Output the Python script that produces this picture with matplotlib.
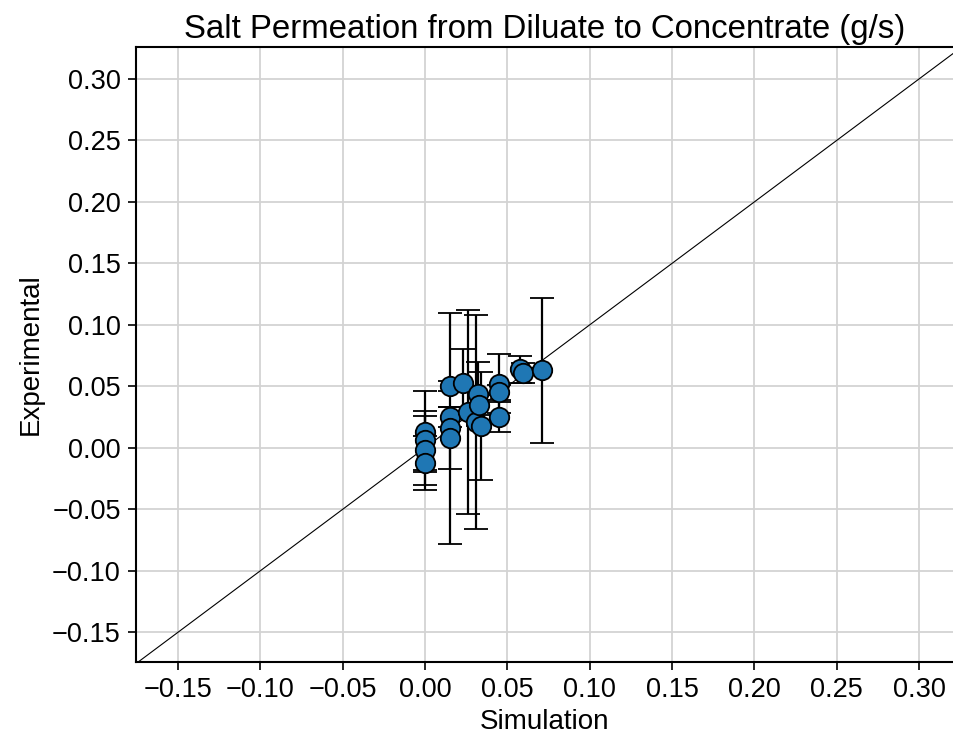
import matplotlib
matplotlib.use('Agg')
import matplotlib.pyplot as plt

plt.rcParams['font.family'] = ['Liberation Sans', 'DejaVu Sans']

# Data
sim = [0.000, 0.000, 0.000, 0.000,
       0.0152, 0.0152, 0.0152, 0.0152,
       0.0229, 0.0263, 0.032, 0.031, 0.033, 0.034,
       0.0452, 0.0452, 0.0452, 0.0577, 0.0594, 0.0709]
expt = [0.013, 0.006, -0.002, -0.012,
        0.050, 0.025, 0.016, 0.008,
        0.053, 0.029, 0.044, 0.021, 0.035, 0.018,
        0.052, 0.045, 0.025, 0.064, 0.061, 0.063]
err = [0.033, 0.024, 0.028, 0.022,
       0.004, 0.008, 0.094, 0.025,
       0.027, 0.083, 0.026, 0.087, 0.008, 0.044,
       0.024, 0.006, 0.012, 0.011, 0.008, 0.059]

lims = [-0.175, 0.325]

fig = plt.figure(figsize=(9.54, 7.38), dpi=100)
ax = fig.add_axes([0.1426, 0.103, 0.857, 0.833])

ax.grid(True, color='#d3d3d3', linewidth=1.3, zorder=0)
ax.set_axisbelow(True)
ax.plot(lims, lims, color='black', linewidth=0.8, zorder=2)
ax.errorbar(sim, expt, yerr=err, fmt='o', color='#1f77b4', markersize=14,
            markeredgecolor='black', markeredgewidth=1.3,
            ecolor='black', elinewidth=1.6, capsize=8.5, capthick=1.6, zorder=3)

ax.set_xlim(-0.1755, 0.321)
ax.set_ylim(-0.1742, 0.3258)
ticks = [-0.15, -0.10, -0.05, 0.00, 0.05, 0.10, 0.15, 0.20, 0.25, 0.30]
labels = ['%.2f' % t if t >= 0 else '\u2212%.2f' % -t for t in ticks]
ax.set_xticks(ticks)
ax.set_yticks(ticks)
ax.set_xticklabels(labels)
ax.set_yticklabels(labels)
ax.tick_params(labelsize=19.5, length=6, width=1.2, pad=5)
for s in ax.spines.values():
    s.set_linewidth(1.5)
ax.spines['right'].set_visible(False)

ax.set_xlabel('Simulation', fontsize=20, labelpad=4)
ax.set_ylabel('Experimental', fontsize=20, labelpad=6)
ax.set_title('Salt Permeation from Diluate to Concentrate (g/s)', fontsize=23.8, pad=7)

fig.savefig('out.png', dpi=100)
